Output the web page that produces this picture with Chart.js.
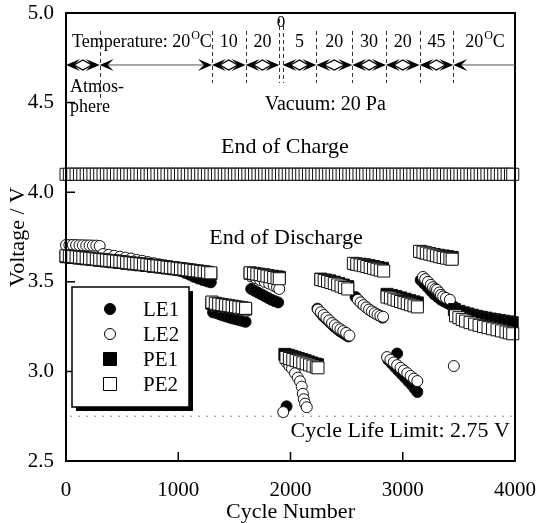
<!DOCTYPE html>
<html lang="en">
<head>
<meta charset="UTF-8">
<title>Cycle life</title>
<script src="https://cdn.jsdelivr.net/npm/chart.js"></script>
<style>
  body { margin: 0; background: #fff; }
  canvas { display: block; }
</style>
</head>
<body>
<canvas id="c" width="537" height="523"></canvas>
<script>
  // values: [cycle, voltage]
  const chargeVolt = 4.1;
  const chargeCycles = [0, 30, 60, 90, 120, 150, 180, 210, 240, 270, 300, 330, 360, 390, 420, 450, 480, 510, 540, 570, 600, 630, 660, 690, 720, 750, 780, 810, 840, 870, 900, 930, 960, 990, 1020, 1050, 1080, 1110, 1140, 1170, 1200, 1230, 1260, 1290, 1320, 1350, 1380, 1410, 1440, 1470, 1500, 1530, 1560, 1590, 1620, 1650, 1680, 1710, 1740, 1770, 1800, 1830, 1860, 1890, 1920, 1950, 1980, 2010, 2040, 2070, 2100, 2130, 2160, 2190, 2220, 2250, 2280, 2310, 2340, 2370, 2400, 2430, 2460, 2490, 2520, 2550, 2580, 2610, 2640, 2670, 2700, 2730, 2760, 2790, 2820, 2850, 2880, 2910, 2940, 2970, 3000, 3030, 3060, 3090, 3120, 3150, 3180, 3210, 3240, 3270, 3300, 3330, 3360, 3390, 3420, 3450, 3480, 3510, 3540, 3570, 3600, 3630, 3660, 3690, 3720, 3750, 3780, 3810, 3840, 3870, 3900, 3930, 3960, 3980];

  const le1 = [
    [0, 3.635], [60, 3.632], [120, 3.628], [180, 3.624], [240, 3.62], [300, 3.616], [360, 3.612], [420, 3.608], [480, 3.604], [540, 3.599], [600, 3.595], [660, 3.591], [720, 3.587], [780, 3.582], [840, 3.578], [900, 3.573], [960, 3.567], [1020, 3.56], [1060, 3.55], [1100, 3.54], [1140, 3.528], [1180, 3.518], [1220, 3.51], [1260, 3.502], [1290, 3.497],
    [1310, 3.33], [1340, 3.325], [1370, 3.318], [1400, 3.312], [1430, 3.306], [1460, 3.3], [1490, 3.295], [1520, 3.29], [1550, 3.285], [1580, 3.28], [1600, 3.277],
    [1650, 3.46], [1680, 3.45], [1710, 3.44], [1740, 3.43], [1770, 3.42], [1800, 3.41], [1830, 3.4], [1860, 3.392], [1890, 3.385],
    [1965, 2.805],
    [2240, 3.35], [2265, 3.33], [2290, 3.31], [2315, 3.295], [2340, 3.28], [2365, 3.265], [2390, 3.25], [2415, 3.237], [2440, 3.225], [2465, 3.215], [2490, 3.205], [2515, 3.195],
    [2580, 3.415], [2610, 3.395], [2640, 3.375], [2670, 3.36], [2700, 3.345], [2730, 3.333], [2760, 3.322], [2790, 3.312], [2820, 3.3],
    [2870, 3.065], [2900, 3.045], [2930, 3.025], [2950, 3.1], [2960, 3.005], [2990, 2.985], [3020, 2.965], [3050, 2.945], [3080, 2.925], [3105, 2.905], [3130, 2.885],
    [3160, 3.51], [3190, 3.49], [3220, 3.47], [3250, 3.45], [3280, 3.43], [3310, 3.415], [3340, 3.4], [3370, 3.39], [3400, 3.38], [3430, 3.37], [3460, 3.36]
  ];

  const le2 = [
    [0, 3.705], [30, 3.705], [60, 3.706], [90, 3.705], [120, 3.704], [150, 3.704], [180, 3.703], [210, 3.703], [240, 3.702], [270, 3.702], [300, 3.7],
    [330, 3.655], [380, 3.65], [430, 3.645], [480, 3.64], [530, 3.635], [580, 3.63], [630, 3.622], [680, 3.617], [730, 3.61], [780, 3.604], [830, 3.598], [880, 3.592], [930, 3.587], [980, 3.582], [1030, 3.577], [1080, 3.572], [1130, 3.567], [1180, 3.562], [1230, 3.558], [1280, 3.555],
    [1310, 3.365], [1360, 3.36], [1410, 3.355], [1460, 3.35], [1510, 3.345], [1560, 3.34], [1600, 3.335],
    [1650, 3.53], [1690, 3.52], [1730, 3.51], [1770, 3.5], [1810, 3.49], [1850, 3.478], [1880, 3.468], [1900, 3.46],
    [1935, 2.773],
    [1965, 3.05], [1990, 3.03], [2013, 3.015], [2040, 2.99], [2065, 2.965], [2085, 2.945], [2100, 2.915], [2110, 2.875], [2118, 2.845], [2130, 2.82], [2145, 2.8],
    [2245, 3.345], [2270, 3.33], [2295, 3.315], [2320, 3.3], [2345, 3.285], [2370, 3.27], [2395, 3.258], [2420, 3.245], [2445, 3.235], [2470, 3.225], [2495, 3.215], [2525, 3.2],
    [2600, 3.4], [2625, 3.385], [2650, 3.37], [2675, 3.357], [2700, 3.345], [2725, 3.335], [2750, 3.325], [2775, 3.317], [2800, 3.31], [2825, 3.305],
    [2860, 3.08], [2890, 3.065], [2920, 3.05], [2950, 3.035], [2980, 3.02], [3010, 3.005], [3040, 2.99], [3070, 2.975], [3100, 2.96], [3130, 2.946],
    [3180, 3.527], [3200, 3.515], [3225, 3.5], [3250, 3.483], [3270, 3.47], [3290, 3.46], [3305, 3.455], [3325, 3.44], [3340, 3.427], [3360, 3.418], [3385, 3.41], [3420, 3.4],
    [3455, 3.03]
  ];

  const pe1 = [
    [0, 3.64], [60, 3.636], [120, 3.632], [180, 3.628], [240, 3.624], [300, 3.62], [360, 3.616], [420, 3.612], [480, 3.608], [540, 3.603], [600, 3.599], [660, 3.595], [720, 3.591], [780, 3.586], [840, 3.582], [900, 3.577], [960, 3.573], [1020, 3.568], [1080, 3.563], [1140, 3.558], [1200, 3.553], [1260, 3.548], [1290, 3.545],
    [1300, 3.38], [1340, 3.372], [1380, 3.368], [1420, 3.364], [1460, 3.36], [1500, 3.357], [1540, 3.353], [1580, 3.35], [1600, 3.348],
    [1640, 3.548], [1680, 3.545], [1720, 3.542], [1760, 3.539], [1800, 3.535], [1840, 3.531], [1880, 3.527], [1900, 3.525],
    [1950, 3.095], [1980, 3.09], [2010, 3.084], [2040, 3.078], [2070, 3.072], [2100, 3.066], [2130, 3.06], [2160, 3.053], [2190, 3.047], [2220, 3.041], [2240, 3.037],
    [2270, 3.515], [2310, 3.51], [2350, 3.505], [2390, 3.498], [2430, 3.49], [2470, 3.482], [2510, 3.473],
    [2580, 3.6], [2620, 3.598], [2660, 3.595], [2700, 3.59], [2740, 3.585], [2780, 3.58], [2820, 3.575],
    [2860, 3.43], [2900, 3.424], [2940, 3.417], [2980, 3.41], [3020, 3.403], [3060, 3.395], [3100, 3.388], [3130, 3.382],
    [3160, 3.668], [3200, 3.662], [3240, 3.657], [3280, 3.652], [3320, 3.648], [3360, 3.644], [3400, 3.64], [3440, 3.636],
    [3460, 3.345], [3500, 3.335], [3540, 3.327], [3580, 3.32], [3620, 3.313], [3660, 3.307], [3700, 3.302], [3740, 3.297], [3780, 3.292], [3820, 3.288], [3860, 3.284], [3900, 3.28], [3940, 3.276], [3975, 3.272]
  ];

  const pe2 = [
    [0, 3.645], [30, 3.643], [60, 3.641], [90, 3.639], [120, 3.637], [150, 3.635], [180, 3.633], [210, 3.631], [240, 3.629], [270, 3.627], [300, 3.625], [330, 3.623], [360, 3.621], [390, 3.619], [420, 3.617], [450, 3.615], [480, 3.613], [510, 3.611], [540, 3.608], [570, 3.606], [600, 3.604], [630, 3.602], [660, 3.6], [690, 3.598], [720, 3.596], [750, 3.593], [780, 3.591], [810, 3.589], [840, 3.587], [870, 3.585], [900, 3.582], [930, 3.58], [960, 3.578], [990, 3.575], [1020, 3.573], [1050, 3.571], [1080, 3.568], [1110, 3.566], [1140, 3.563], [1170, 3.561], [1200, 3.558], [1230, 3.556], [1260, 3.553], [1290, 3.55],
    [1300, 3.387], [1330, 3.38], [1360, 3.376], [1390, 3.373], [1420, 3.37], [1450, 3.367], [1480, 3.364], [1510, 3.361], [1540, 3.358], [1570, 3.355], [1600, 3.352],
    [1640, 3.55], [1670, 3.547], [1700, 3.543], [1730, 3.54], [1760, 3.536], [1790, 3.532], [1820, 3.528], [1850, 3.524], [1880, 3.52], [1900, 3.517],
    [1960, 3.078], [1990, 3.072], [2020, 3.066], [2050, 3.06], [2080, 3.054], [2110, 3.048], [2140, 3.042], [2170, 3.036], [2200, 3.03], [2230, 3.024], [2245, 3.02],
    [2270, 3.512], [2300, 3.507], [2330, 3.502], [2360, 3.496], [2390, 3.49], [2420, 3.483], [2450, 3.476], [2480, 3.468], [2510, 3.46],
    [2560, 3.603], [2590, 3.598], [2620, 3.594], [2650, 3.59], [2680, 3.585], [2710, 3.58], [2740, 3.575], [2770, 3.57], [2800, 3.565], [2830, 3.56],
    [2860, 3.415], [2890, 3.41], [2920, 3.403], [2950, 3.397], [2980, 3.39], [3010, 3.384], [3040, 3.378], [3070, 3.372], [3100, 3.366], [3130, 3.36],
    [3150, 3.67], [3180, 3.665], [3210, 3.66], [3240, 3.655], [3270, 3.65], [3300, 3.645], [3330, 3.64], [3360, 3.636], [3390, 3.632], [3420, 3.628], [3440, 3.626],
    [3470, 3.31], [3500, 3.3], [3530, 3.29], [3560, 3.281], [3600, 3.272], [3640, 3.264], [3680, 3.257], [3720, 3.25], [3760, 3.244], [3800, 3.238], [3840, 3.232], [3880, 3.226], [3920, 3.22], [3950, 3.215], [3980, 3.21]
  ];

  const lifeLimit = 2.75;
  const tempBounds = [0, 300, 1300, 1600, 1900, 1930, 2230, 2550, 2850, 3150, 3450, 4000];
  const tempLabels = ['', '', '10', '20', '0', '5', '20', '30', '20', '45', '20'];
  const seriesNames = ['LE1', 'LE2', 'PE1', 'PE2'];

  const SERIF = '"Liberation Serif", "Times New Roman", serif';
  Chart.defaults.font.family = SERIF;
  Chart.defaults.color = '#000';

  const pts = a => a.map(p => ({ x: p[0], y: p[1] }));

  function ds(label, data, style, fill, r) {
    return {
      label: label,
      data: data,
      showLine: false,
      clip: false,
      pointStyle: style,
      pointRadius: r,
      pointHoverRadius: r,
      pointBackgroundColor: fill,
      pointBorderColor: '#111',
      pointBorderWidth: 1
    };
  }

  function head(ctx, x, y, dir) {
    // barbed arrow head, tip at x, dir -1 points left, +1 points right
    ctx.beginPath();
    ctx.moveTo(x, y);
    ctx.lineTo(x - dir * 14, y - 6);
    ctx.lineTo(x - dir * 8, y);
    ctx.lineTo(x - dir * 14, y + 6);
    ctx.closePath();
    ctx.fill();
  }

  const deco = {
    id: 'deco',
    beforeDatasetsDraw(chart) {
      const { ctx, chartArea: a, scales: { y } } = chart;
      const ly = y.getPixelForValue(lifeLimit);
      ctx.save();
      ctx.strokeStyle = '#888';
      ctx.lineWidth = 1;
      ctx.setLineDash([2, 6]);
      ctx.beginPath();
      ctx.moveTo(a.left + 4, ly);
      ctx.lineTo(a.right, ly);
      ctx.stroke();
      ctx.restore();
    },
    afterDraw(chart) {
      const { ctx, chartArea: a, scales: { x, y } } = chart;
      ctx.save();

      // frame and inward ticks
      ctx.strokeStyle = '#000';
      ctx.lineWidth = 2;
      ctx.strokeRect(a.left, a.top, a.right - a.left, a.bottom - a.top);
      ctx.lineWidth = 1.5;
      ctx.beginPath();
      [1000, 2000, 3000].forEach(v => {
        const px = x.getPixelForValue(v);
        ctx.moveTo(px, a.bottom);
        ctx.lineTo(px, a.bottom - 9);
      });
      [3.0, 3.5, 4.0, 4.5].forEach(v => {
        const py = y.getPixelForValue(v);
        ctx.moveTo(a.left, py);
        ctx.lineTo(a.left + 9, py);
      });
      ctx.stroke();

      // temperature timeline
      const ay = y.getPixelForValue(4.71);
      ctx.strokeStyle = '#333';
      ctx.lineWidth = 1;
      ctx.setLineDash([4, 3]);
      for (let i = 1; i < tempBounds.length - 1; i++) {
        const px = Math.round(x.getPixelForValue(tempBounds[i])) + 0.5;
        let y0 = ay - 34, y1 = ay + 18;
        if (i === 4 || i === 5) y0 = ay - 46;
        if (i === 1) y1 = ay + 36;
        ctx.beginPath();
        ctx.moveTo(px, y0);
        ctx.lineTo(px, y1);
        ctx.stroke();
      }
      ctx.setLineDash([]);
      ctx.fillStyle = '#000';
      for (let i = 0; i < tempBounds.length - 1; i++) {
        if (i === 4) continue;
        const x0 = x.getPixelForValue(tempBounds[i]);
        const x1 = i === tempBounds.length - 2 ? a.right : x.getPixelForValue(tempBounds[i + 1]);
        const last = i === tempBounds.length - 2;
        ctx.strokeStyle = '#555';
        ctx.lineWidth = 1;
        ctx.beginPath();
        if (x1 - x0 > 60) {
          ctx.moveTo(x0 + 8, ay);
          ctx.lineTo(last ? x1 : x1 - 8, ay);
        } else {
          const m = (x0 + x1) / 2;
          ctx.strokeStyle = '#000';
          ctx.lineWidth = 1.3;
          ctx.moveTo(x0 + 8, ay);
          ctx.lineTo(m, ay - 5);
          ctx.lineTo(x1 - 8, ay);
          ctx.lineTo(m, ay + 5);
          ctx.closePath();
        }
        ctx.stroke();
        head(ctx, x0, ay, -1);
        if (!last) head(ctx, x1, ay, 1);
      }

      // temperature labels
      ctx.textBaseline = 'alphabetic';
      ctx.font = '18px ' + SERIF;
      ctx.textAlign = 'left';
      const tx = a.left + 6;
      ctx.fillText('Temperature: 20', tx, ay - 18);
      let w = ctx.measureText('Temperature: 20').width;
      ctx.font = '12px ' + SERIF;
      ctx.fillText('O', tx + w + 1, ay - 26);
      w += ctx.measureText('O').width + 1;
      ctx.font = '18px ' + SERIF;
      ctx.fillText('C', tx + w, ay - 18);
      ctx.textAlign = 'center';
      for (let i = 2; i < tempLabels.length - 1; i++) {
        const m = x.getPixelForValue((tempBounds[i] + tempBounds[i + 1]) / 2);
        if (i === 4) {
          ctx.font = '17px ' + SERIF;
          ctx.fillText(tempLabels[i], m, ay - 38);
          ctx.font = '18px ' + SERIF;
        } else {
          ctx.fillText(tempLabels[i], m, ay - 18);
        }
      }
      const fx = (x.getPixelForValue(tempBounds[10]) + a.right) / 2 - 19;
      ctx.textAlign = 'left';
      ctx.fillText('20', fx, ay - 18);
      w = ctx.measureText('20').width;
      ctx.font = '12px ' + SERIF;
      ctx.fillText('O', fx + w + 1, ay - 26);
      w += ctx.measureText('O').width + 1;
      ctx.font = '18px ' + SERIF;
      ctx.fillText('C', fx + w, ay - 18);

      ctx.textBaseline = 'middle';
      ctx.fillText('Atmos-', a.left + 4, ay + 22);
      ctx.fillText('phere', a.left + 4, ay + 42);

      ctx.textAlign = 'center';
      ctx.font = '20px ' + SERIF;
      ctx.fillText('Vacuum: 20 Pa', x.getPixelForValue(2310), y.getPixelForValue(4.49));
      ctx.font = '22px ' + SERIF;
      ctx.fillText('End of Charge', x.getPixelForValue(1950), y.getPixelForValue(4.252));
      ctx.fillText('End of Discharge', x.getPixelForValue(1960), y.getPixelForValue(3.745));
      ctx.textAlign = 'right';
      ctx.fillText('Cycle Life Limit: 2.75 V', x.getPixelForValue(3955), y.getPixelForValue(2.665));

      // legend box
      const bx = 72, by = 287, bw = 117, bh = 120;
      ctx.fillStyle = '#000';
      ctx.fillRect(bx + 4, by + 4, bw, bh);
      ctx.fillStyle = '#fff';
      ctx.fillRect(bx, by, bw, bh);
      ctx.strokeStyle = '#000';
      ctx.lineWidth = 1.5;
      ctx.strokeRect(bx, by, bw, bh);
      ctx.lineWidth = 1;
      ctx.font = '21px ' + SERIF;
      ctx.textAlign = 'left';
      ctx.textBaseline = 'middle';
      seriesNames.forEach((n, i) => {
        const ry = by + 22 + i * 25;
        const mx = bx + 38;
        ctx.beginPath();
        if (i < 2) ctx.arc(mx, ry, 5.5, 0, Math.PI * 2);
        else ctx.rect(mx - 6.5, ry - 6.5, 13, 13);
        ctx.fillStyle = i % 2 === 0 ? '#000' : '#fff';
        ctx.fill();
        ctx.strokeStyle = '#000';
        ctx.stroke();
        ctx.fillStyle = '#000';
        ctx.fillText(n, bx + 71, ry + 1);
      });
      ctx.restore();
    }
  };

  new Chart(document.getElementById('c'), {
    type: 'scatter',
    data: {
      datasets: [
        ds('charge', chargeCycles.map(c => ({ x: c, y: chargeVolt })), 'rect', '#fff', 8.5),
        ds('PE2', pts(pe2), 'rect', '#fff', 8.5),
        ds('PE1', pts(pe1), 'rect', '#000', 8.5),
        ds('LE2', pts(le2), 'circle', '#fff', 5.5),
        ds('LE1', pts(le1), 'circle', '#000', 5.5)
      ]
    },
    options: {
      responsive: false,
      animation: false,
      events: [],
      layout: { padding: { top: 13, right: 22, bottom: 0, left: 0 } },
      plugins: { legend: { display: false }, tooltip: { enabled: false } },
      scales: {
        x: {
          type: 'linear', min: 0, max: 4000,
          grid: { display: false }, border: { display: false },
          ticks: { stepSize: 1000, padding: 9, font: { size: 21 }, color: '#000', callback: v => String(v), maxRotation: 0 },
          title: { display: true, text: 'Cycle Number', font: { size: 22, lineHeight: 1 }, color: '#000', padding: { top: 0, bottom: 0 } },
          afterFit(s) { s.height = 62; s.paddingLeft = 0; s.paddingRight = 0; }
        },
        y: {
          min: 2.5, max: 5.0,
          grid: { display: false }, border: { display: false },
          ticks: { stepSize: 0.5, padding: 4, font: { size: 21 }, color: '#000', callback: v => v.toFixed(1) },
          title: { display: true, text: 'Voltage / V', font: { size: 22, lineHeight: 1 }, color: '#000', padding: { top: 7, bottom: 0 } },
          afterFit(s) { s.width = 66; s.paddingTop = 0; s.paddingBottom = 0; }
        }
      }
    },
    plugins: [deco]
  });
</script>
</body>
</html>
